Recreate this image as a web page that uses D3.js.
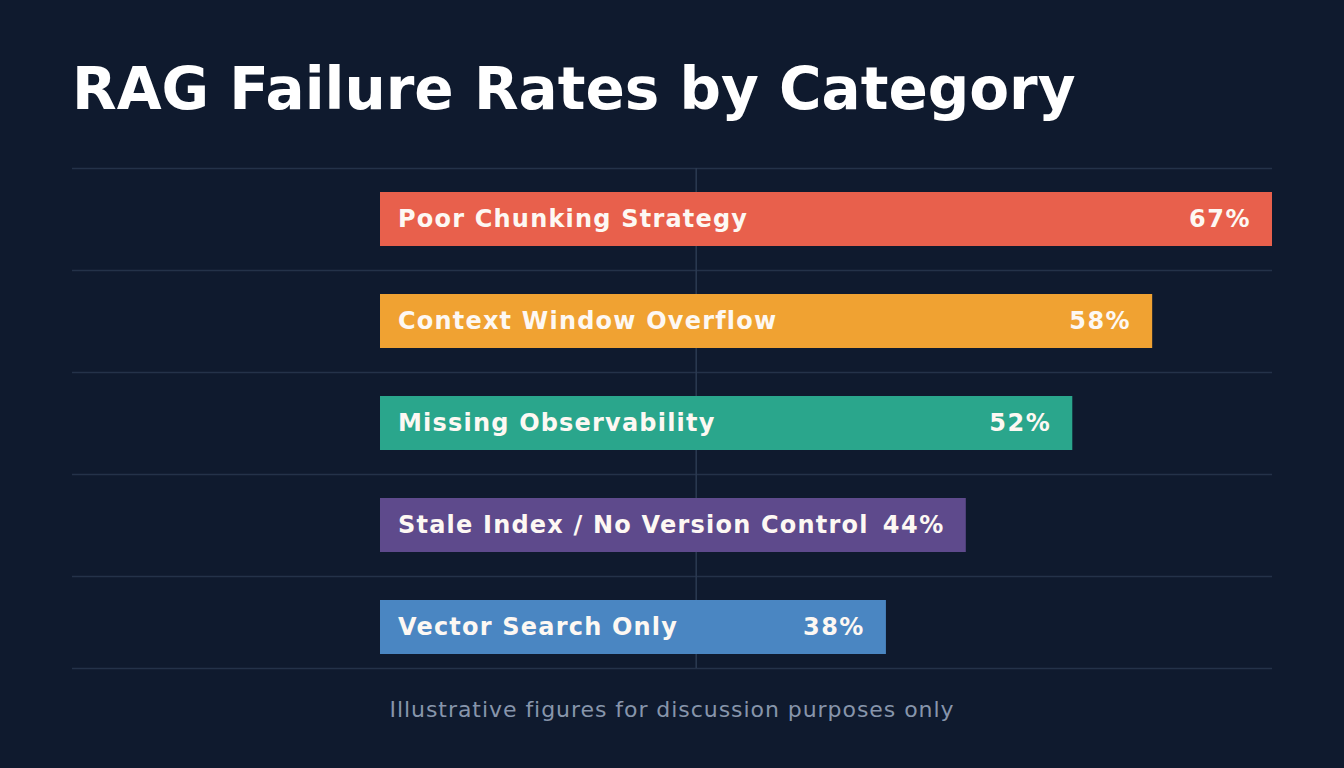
<!DOCTYPE html>
<html>
<head>
<meta charset="utf-8">
<script src="https://cdn.jsdelivr.net/npm/d3@7"></script>
<style>
  html, body { margin: 0; padding: 0; background: #0f1a2e; }
  svg { display: block; }
  text { font-family: "DejaVu Sans", sans-serif; }
</style>
</head>
<body>
<script>
const categories = ['Poor Chunking Strategy', 'Context Window Overflow', 'Missing Observability', 'Stale Index / No Version Control', 'Vector Search Only'];
const values = [67, 58, 52, 44, 38];
const colors = ['#e8604c', '#f0a232', '#2aa68c', '#5e4a8c', '#4a86c2'];
const refValue = 23.75;

const W = 1344, H = 768;
const svg = d3.select('body').append('svg').attr('width', W).attr('height', H);
svg.append('rect').attr('width', W).attr('height', H).attr('fill', '#0f1a2e');

const x = d3.scaleLinear().domain([0, 67]).range([380, 1272]);
const y = d3.scaleBand().domain(categories).range([168, 678]);
const barPad = 24, barH = 54;

svg.append('text')
  .attr('x', 72).attr('y', 109)
  .attr('fill', '#ffffff')
  .attr('font-size', 58).attr('font-weight', 'bold')
  .text('RAG Failure Rates by Category');

// row lines
const g = svg.append('g');
g.selectAll('line.row').data(categories).join('line')
  .attr('class', 'row')
  .attr('x1', 72).attr('x2', 1272)
  .attr('y1', d => y(d) + 0.5).attr('y2', d => y(d) + 0.5)
  .attr('stroke', '#243249').attr('stroke-width', 1.5);
g.append('line')
  .attr('x1', 72).attr('x2', 1272)
  .attr('y1', 668.5).attr('y2', 668.5)
  .attr('stroke', '#243249').attr('stroke-width', 1.5);

// reference line
g.append('line')
  .attr('x1', x(refValue)).attr('x2', x(refValue))
  .attr('y1', 168).attr('y2', 668)
  .attr('stroke', '#2c3b52').attr('stroke-width', 1.5);

const rows = svg.selectAll('g.bar').data(categories).join('g').attr('class', 'bar');
rows.append('rect')
  .attr('x', x(0))
  .attr('y', d => y(d) + barPad)
  .attr('width', (d, i) => x(values[i]) - x(0))
  .attr('height', barH)
  .attr('fill', (d, i) => colors[i]);
rows.append('text')
  .attr('x', x(0) + 18)
  .attr('y', d => y(d) + barPad + barH / 2 + 8)
  .attr('fill', '#fdf8f3')
  .attr('font-size', 24).attr('font-weight', 'bold')
  .attr('letter-spacing', 1.2)
  .text(d => d);
rows.append('text')
  .attr('x', (d, i) => x(values[i]) - 21)
  .attr('y', d => y(d) + barPad + barH / 2 + 8)
  .attr('text-anchor', 'end')
  .attr('fill', '#fdf8f3')
  .attr('font-size', 24).attr('font-weight', 'bold')
  .attr('letter-spacing', 1.5)
  .text((d, i) => values[i] + '%');

svg.append('text')
  .attr('x', 672).attr('y', 717)
  .attr('text-anchor', 'middle')
  .attr('fill', '#8795ab')
  .attr('font-size', 22)
  .attr('letter-spacing', 0.95)
  .text('Illustrative figures for discussion purposes only');
</script>
</body>
</html>
